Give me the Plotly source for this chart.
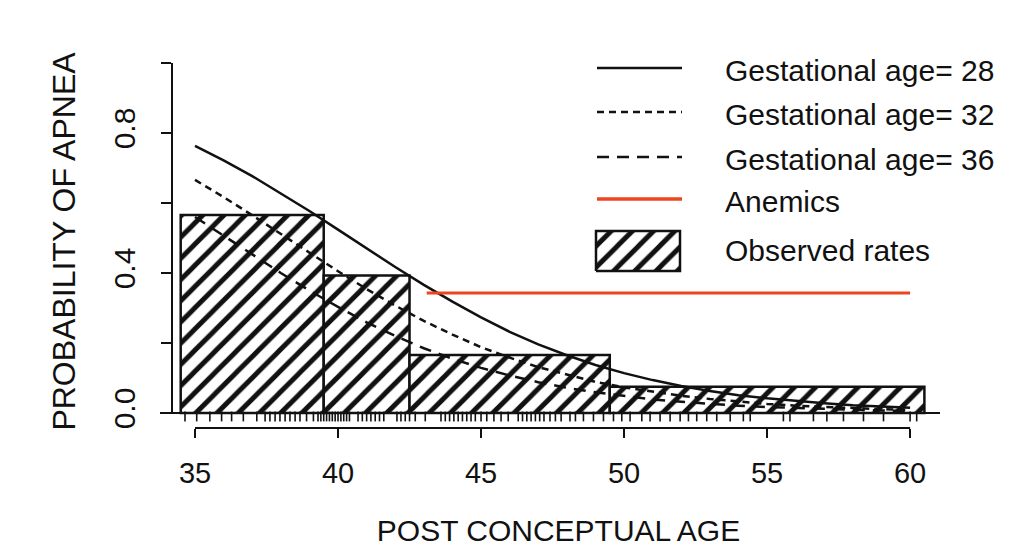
import plotly.graph_objects as go

# ---------------- data ----------------
pca = [35, 36, 37, 38, 39, 40, 41, 42, 43, 44, 45, 46, 47, 48, 49, 50,
       51, 52, 53, 54, 55, 56, 57, 58, 59, 60]
p_ga28 = [0.763, 0.722, 0.677, 0.628, 0.577, 0.524, 0.470, 0.417, 0.366, 0.318,
          0.273, 0.232, 0.196, 0.165, 0.137, 0.114, 0.094, 0.077, 0.063, 0.051,
          0.042, 0.034, 0.028, 0.022, 0.018, 0.015]
p_ga32 = [0.666, 0.617, 0.565, 0.511, 0.458, 0.405, 0.354, 0.307, 0.263, 0.224,
          0.188, 0.158, 0.131, 0.109, 0.089, 0.073, 0.060, 0.049, 0.040, 0.032,
          0.026, 0.021, 0.017, 0.014, 0.011, 0.009]
p_ga36 = [0.560, 0.506, 0.453, 0.400, 0.350, 0.303, 0.259, 0.220, 0.185, 0.155,
          0.129, 0.107, 0.088, 0.072, 0.059, 0.048, 0.039, 0.032, 0.026, 0.021,
          0.017, 0.014, 0.011, 0.009, 0.007, 0.006]

anemic_x = [43.1, 60.0]
anemic_p = [0.343, 0.343]

bin_edges = [34.5, 39.5, 42.5, 49.5, 60.5]
observed_rates = [0.566, 0.393, 0.166, 0.075]

rug_x = [34.65, 35.06, 35.52, 35.93, 36.28, 36.69, 37.16, 37.45, 37.62, 37.80,
         37.97, 38.15, 38.32, 38.50, 38.67, 38.90, 39.14, 39.30, 39.40, 39.50,
         39.60, 39.70, 39.80, 39.90, 40.00, 40.10, 40.20, 40.30, 40.40, 40.70,
         40.85, 41.00, 41.15, 41.30, 41.45, 41.60, 42.06, 42.20, 42.35, 42.50,
         42.70, 43.05, 43.60, 43.75, 43.90, 44.05, 44.20, 44.35, 44.50, 44.65,
         44.80, 45.00, 45.20, 45.45, 45.70, 45.95, 46.30, 46.45, 46.60, 46.75,
         46.90, 47.05, 47.20, 47.41, 47.60, 47.80, 48.11, 48.30, 48.58, 48.93,
         49.28, 49.63, 49.92, 50.21, 50.62, 50.91, 51.26, 51.61, 51.96, 52.25,
         52.54, 52.89, 53.24, 53.71, 54.17, 54.41, 55.57, 55.80, 56.62, 57.09,
         57.67, 58.37, 59.07, 60.00, 60.23]

x_ticks = [35, 40, 45, 50, 55, 60]
y_ticks = [0.0, 0.2, 0.4, 0.6, 0.8, 1.0]
y_ticktext = ["0.0", "", "0.4", "", "0.8", ""]

legend_labels = ["Gestational age= 28", "Gestational age= 32",
                 "Gestational age= 36", "Anemics", "Observed rates"]

# ---------------- styling ----------------
FONT = "Liberation Sans, Arial, Helvetica, sans-serif"
INK = "#111111"
RED = "#ee4420"
DASH32 = "7px,5px"
DASH36 = "12px,8px"
HATCH = dict(shape="/", fgcolor=INK, bgcolor="white", size=15,
             solidity=0.33, fgopacity=1)

bar_centers = [(a + b) / 2 for a, b in zip(bin_edges[:-1], bin_edges[1:])]
bar_widths = [b - a for a, b in zip(bin_edges[:-1], bin_edges[1:])]

fig = go.Figure()

fig.add_trace(go.Bar(
    x=bar_centers, y=observed_rates, width=bar_widths,
    marker=dict(color="white", line=dict(color=INK, width=2.5),
                pattern=HATCH),
    name="Observed rates", showlegend=False, hoverinfo="skip"))

fig.add_trace(go.Scatter(x=pca, y=p_ga28, mode="lines",
                         line=dict(color=INK, width=2.5), showlegend=False,
                         name=legend_labels[0]))
fig.add_trace(go.Scatter(x=pca, y=p_ga32, mode="lines",
                         line=dict(color=INK, width=2.5, dash=DASH32),
                         showlegend=False, name=legend_labels[1]))
fig.add_trace(go.Scatter(x=pca, y=p_ga36, mode="lines",
                         line=dict(color=INK, width=2.5, dash=DASH36),
                         showlegend=False, name=legend_labels[2]))
fig.add_trace(go.Scatter(x=anemic_x, y=anemic_p, mode="lines",
                         line=dict(color=RED, width=3), showlegend=False,
                         name=legend_labels[3]))

# rug of observations under the baseline
fig.add_trace(go.Scatter(x=rug_x, y=[-0.01] * len(rug_x), mode="markers",
                         marker=dict(symbol="line-ns", size=7,
                                     line=dict(color=INK, width=1.6)),
                         showlegend=False, hoverinfo="skip", cliponaxis=False))

# ---------------- layout geometry (pixels) ----------------
W, H = 1021, 556
L, R, T, B = 172, 76, 55, 128
pw, ph = W - L - R, H - T - B


def fx(px):
    return (px - L) / pw


def fy(py):
    return (H - B - py) / ph


# manual legend: hatched box via overlay axes in plot-fraction units
bx0, bx1, by0, by1 = fx(596), fx(680), fy(271), fy(231)
fig.add_trace(go.Scatter(
    x=[bx0, bx1, bx1, bx0, bx0], y=[by0, by0, by1, by1, by0],
    xaxis="x2", yaxis="y2", mode="lines", fill="toself",
    fillcolor="white", line=dict(color=INK, width=2.5),
    fillpattern=HATCH, showlegend=False, hoverinfo="skip"))

shapes = []
# R-style axis lines
shapes.append(dict(type="line", xref="x", yref="paper", x0=x_ticks[0],
                   x1=x_ticks[-1], y0=0, y1=0, line=dict(color=INK, width=2)))
shapes.append(dict(type="line", xref="paper", yref="y", x0=0, x1=0,
                   y0=y_ticks[0], y1=y_ticks[-1],
                   line=dict(color=INK, width=2)))
# histogram baseline
shapes.append(dict(type="line", xref="paper", yref="y", x0=fx(160),
                   x1=fx(940), y0=0, y1=0, line=dict(color=INK, width=2)))

# legend line samples
leg_rows = [68, 112, 157, 199]
leg_styles = [dict(color=INK, width=2.5),
              dict(color=INK, width=2.5, dash=DASH32),
              dict(color=INK, width=2.5, dash=DASH36),
              dict(color=RED, width=3.5)]
for ry, st in zip(leg_rows, leg_styles):
    shapes.append(dict(type="line", xref="paper", yref="paper",
                       x0=fx(597), x1=fx(682), y0=fy(ry), y1=fy(ry), line=st))

annotations = []
text_rows = [70, 114, 159, 201, 250]
for ty, lab in zip(text_rows, legend_labels):
    annotations.append(dict(text=lab, xref="paper", yref="paper",
                            x=fx(723), y=fy(ty), xanchor="left",
                            yanchor="middle", showarrow=False,
                            font=dict(family=FONT, size=30, color=INK)))

fig.update_layout(
    width=W, height=H,
    margin=dict(l=L, r=R, t=T, b=B, pad=0),
    paper_bgcolor="white", plot_bgcolor="white",
    font=dict(family=FONT, size=29, color=INK),
    showlegend=False,
    xaxis=dict(range=[34.196, 61.22], tickvals=x_ticks, ticks="outside",
               ticklen=9, tickwidth=2, tickcolor=INK, showline=False,
               showgrid=False, zeroline=False, ticklabelstandoff=10,
               tickfont=dict(size=29),
               title=dict(text="POST CONCEPTUAL AGE", standoff=32,
                          font=dict(size=30))),
    yaxis=dict(range=[-0.0429, 1.0229], tickvals=y_ticks,
               ticktext=y_ticktext, tickangle=-90, ticks="outside",
               ticklen=10, tickwidth=2, tickcolor=INK, showline=False,
               showgrid=False, zeroline=False, ticklabelstandoff=14,
               tickfont=dict(size=30),
               title=dict(text="PROBABILITY OF APNEA", standoff=22,
                          font=dict(size=32))),
    xaxis2=dict(overlaying="x", range=[0, 1], visible=False, fixedrange=True),
    yaxis2=dict(overlaying="y", range=[0, 1], visible=False, fixedrange=True),
    shapes=shapes, annotations=annotations,
)

fig.write_html("out.html")
